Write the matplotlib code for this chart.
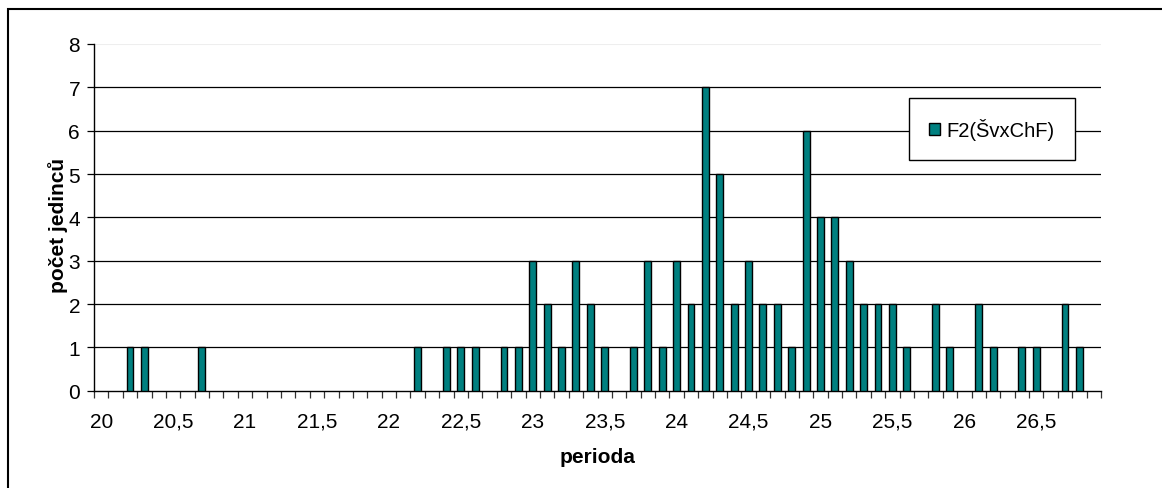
import numpy as np
import matplotlib.pyplot as plt
from matplotlib.patches import Rectangle

plt.rcParams['font.family'] = ['Liberation Sans', 'DejaVu Sans']

# kategorie (perioda) 20,0 ... 26,9
periods = ['20', '20,1', '20,2', '20,3', '20,4', '20,5', '20,6', '20,7', '20,8', '20,9',
           '21', '21,1', '21,2', '21,3', '21,4', '21,5', '21,6', '21,7', '21,8', '21,9',
           '22', '22,1', '22,2', '22,3', '22,4', '22,5', '22,6', '22,7', '22,8', '22,9',
           '23', '23,1', '23,2', '23,3', '23,4', '23,5', '23,6', '23,7', '23,8', '23,9',
           '24', '24,1', '24,2', '24,3', '24,4', '24,5', '24,6', '24,7', '24,8', '24,9',
           '25', '25,1', '25,2', '25,3', '25,4', '25,5', '25,6', '25,7', '25,8', '25,9',
           '26', '26,1', '26,2', '26,3', '26,4', '26,5', '26,6', '26,7', '26,8', '26,9']

# počet jedinců v každé kategorii
counts = [0, 0, 1, 1, 0, 0, 0, 1, 0, 0,
          0, 0, 0, 0, 0, 0, 0, 0, 0, 0,
          0, 0, 1, 0, 1, 1, 1, 0, 1, 1,
          3, 2, 1, 3, 2, 1, 0, 1, 3, 1,
          3, 2, 7, 5, 2, 3, 2, 2, 1, 6,
          4, 4, 3, 2, 2, 2, 1, 0, 2, 1,
          0, 2, 1, 0, 1, 1, 0, 2, 1, 0]

series_name = 'F2(ŠvxChF)'
yticks = [0, 1, 2, 3, 4, 5, 6, 7, 8]

fs = 15

fig = plt.figure(figsize=(11.62, 4.89), dpi=100)
ax = fig.add_axes([94 / 1162, 1 - 391.7 / 489, (1101 - 94) / 1162, (391.7 - 45) / 489])

x = np.arange(len(periods))
c = np.array(counts)
nz = c > 0
ax.bar(x[nz], c[nz], width=0.48, color='#008080', edgecolor='black', linewidth=1.0,
       label=series_name, zorder=3)

ax.set_xlim(-0.5, len(periods) - 0.5)
ax.set_ylim(0, 8)

# mřížka
for v in yticks[1:-1]:
    ax.axhline(v, color='black', linewidth=0.9, zorder=1)
ax.axhline(8, color='#eeeeee', linewidth=0.8, zorder=1)

# osy
for s in ['top', 'right']:
    ax.spines[s].set_visible(False)
ax.spines['left'].set_linewidth(1.0)
ax.spines['bottom'].set_linewidth(1.0)

ax.set_yticks(yticks)
ax.set_yticklabels([str(v) for v in yticks], fontsize=fs)
ax.tick_params(axis='y', direction='out', length=5, width=0.9, pad=5)

ax.set_xticks(np.arange(len(periods) + 1) - 0.5)
ax.set_xticklabels([])
ax.tick_params(axis='x', which='major', direction='out', length=5, width=0.9, color='#333333')
lab_pos = x[::5]
ax.set_xticks(lab_pos, minor=True)
ax.set_xticklabels([periods[i] for i in lab_pos], minor=True, fontsize=fs)
ax.tick_params(axis='x', which='minor', length=0, pad=15)

ax.set_xlabel('perioda', fontsize=fs, fontweight='bold', labelpad=12)
ax.set_ylabel('počet jedinců', fontsize=fs, fontweight='bold')
ax.yaxis.set_label_coords(-0.026, 0.48)

leg = ax.legend(loc='upper left', bbox_to_anchor=(909 / 1162, 1 - 99 / 489),
                bbox_transform=fig.transFigure, fontsize=14.5, frameon=True,
                fancybox=False, edgecolor='black', framealpha=1,
                handlelength=0.55, handleheight=0.55, handletextpad=0.3,
                borderpad=1.0, borderaxespad=0)
leg.get_frame().set_linewidth(1.0)

# rámeček grafu
fig.patches.append(Rectangle((7.5 / 1162, -0.05), 1.1, 1 - 10 / 489 + 0.05,
                             transform=fig.transFigure, fill=False,
                             edgecolor='black', linewidth=1.5))

fig.savefig('out.png', dpi=100)
